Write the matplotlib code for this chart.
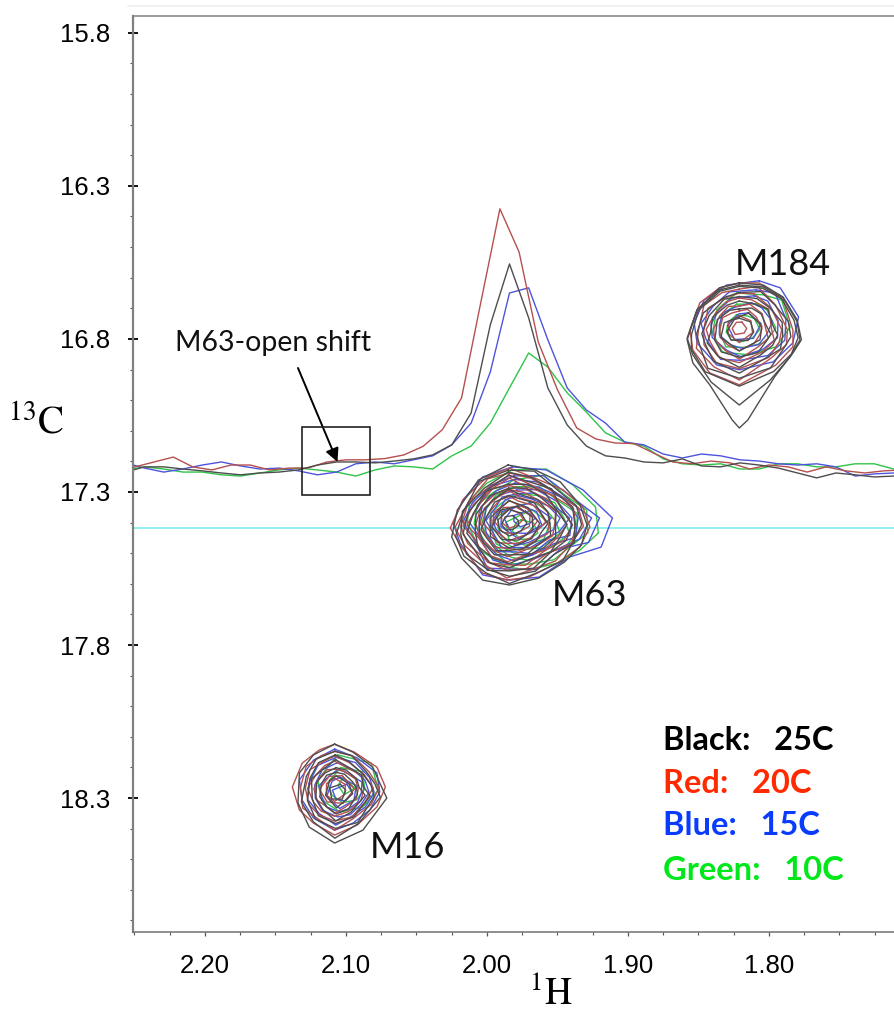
import matplotlib
matplotlib.use('Agg')
import matplotlib.pyplot as plt
from matplotlib.lines import Line2D
from matplotlib.patches import Rectangle
from matplotlib.ticker import MultipleLocator

plt.rcParams['font.family'] = ['Liberation Sans', 'DejaVu Sans']
plt.rcParams['mathtext.fontset'] = 'stix'

# 1D slices along 1H, red sits on its own grid and the others half a point over
h_red = [2.2632, 2.2496, 2.2360, 2.2224, 2.2087, 2.1951, 2.1815, 2.1679, 2.1542, 2.1406, 2.1270,
         2.1134, 2.0998, 2.0861, 2.0725, 2.0589, 2.0453, 2.0317, 2.0180, 2.0044, 1.9908,
         1.9772, 1.9636, 1.9499, 1.9363, 1.9227, 1.9091, 1.8955, 1.8818, 1.8682, 1.8546,
         1.8410, 1.8274, 1.8137, 1.8001, 1.7865, 1.7729, 1.7593, 1.7456, 1.7320, 1.7184, 1.7048]
h_other = [v - 0.0068 for v in h_red]

slice_red = [17.232, 17.218, 17.202, 17.186, 17.218, 17.228, 17.212, 17.212, 17.228, 17.222, 17.222,
             17.202, 17.195, 17.195, 17.191, 17.179, 17.151, 17.097, 16.993, 16.682, 16.375,
             16.516, 16.810, 16.967, 17.091, 17.127, 17.140, 17.142, 17.173, 17.202, 17.208,
             17.199, 17.205, 17.225, 17.212, 17.218, 17.235, 17.218, 17.231, 17.238, 17.231, 17.228]
slice_black = [17.235, 17.218, 17.218, 17.225, 17.231, 17.238, 17.244, 17.238, 17.235, 17.228, 17.212,
               17.202, 17.202, 17.205, 17.199, 17.192, 17.179, 17.146, 17.042, 16.754, 16.555,
               16.731, 16.960, 17.081, 17.150, 17.182, 17.189, 17.202, 17.205, 17.192, 17.215,
               17.218, 17.205, 17.212, 17.222, 17.238, 17.254, 17.238, 17.244, 17.251, 17.248, 17.248]
slice_blue = [17.205, 17.222, 17.235, 17.225, 17.212, 17.202, 17.215, 17.225, 17.222, 17.231, 17.244,
              17.235, 17.208, 17.202, 17.208, 17.195, 17.182, 17.146, 17.075, 16.908, 16.650,
              16.633, 16.803, 16.960, 17.032, 17.075, 17.137, 17.146, 17.176, 17.189, 17.176,
              17.182, 17.195, 17.199, 17.208, 17.212, 17.208, 17.218, 17.248, 17.241, 17.238, 17.238]
slice_green = [17.228, 17.218, 17.225, 17.235, 17.235, 17.244, 17.248, 17.238, 17.228, 17.222, 17.228,
               17.235, 17.248, 17.228, 17.215, 17.218, 17.225, 17.182, 17.150, 17.075, 16.960,
               16.846, 16.892, 16.976, 17.039, 17.107, 17.137, 17.150, 17.192, 17.208, 17.212,
               17.208, 17.225, 17.225, 17.208, 17.208, 17.218, 17.218, 17.208, 17.208, 17.225, 17.228]

# innermost contour centres, these drift a little with temperature
m63_centers = {'black': (1.984, 17.400), 'red': (1.984, 17.385), 'blue': (1.975, 17.385), 'green': (1.974, 17.434)}
m184_centers = {'black': (1.821, 16.771), 'red': (1.821, 16.765), 'blue': (1.818, 16.760), 'green': (1.823, 16.775)}
m16_centers = {'black': (2.106, 18.280), 'red': (2.108, 18.275), 'blue': (2.102, 18.285), 'green': (2.100, 18.265)}

# outermost contour of each peak, per temperature
m63_black = ([1.985, 1.966, 1.948, 1.934, 1.929, 1.933, 1.945, 1.963, 1.984, 2.003, 2.018, 2.025, 2.021, 2.006],
             [17.212, 17.228, 17.267, 17.342, 17.408, 17.473, 17.529, 17.581, 17.604, 17.588, 17.516, 17.447, 17.359, 17.261])
m63_red = ([1.984, 1.968, 1.946, 1.932, 1.927, 1.934, 1.950, 1.970, 1.986, 2.003, 2.018, 2.026, 2.017, 2.000],
           [17.222, 17.251, 17.293, 17.349, 17.414, 17.480, 17.532, 17.578, 17.588, 17.565, 17.480, 17.418, 17.326, 17.251])
m63_blue = ([1.982, 1.958, 1.932, 1.911, 1.919, 1.941, 1.963, 1.984, 2.003, 2.019, 2.024, 2.017, 2.003],
            [17.218, 17.228, 17.293, 17.385, 17.480, 17.512, 17.578, 17.588, 17.571, 17.467, 17.401, 17.326, 17.251])
m63_green = ([1.982, 1.958, 1.939, 1.923, 1.921, 1.934, 1.950, 1.970, 1.986, 2.005, 2.014, 2.012, 2.000],
             [17.228, 17.225, 17.277, 17.349, 17.434, 17.490, 17.532, 17.555, 17.545, 17.490, 17.401, 17.326, 17.271])

m184_black = ([1.821, 1.804, 1.790, 1.781, 1.778, 1.783, 1.796, 1.821, 1.846, 1.856, 1.856, 1.851, 1.835],
              [16.624, 16.630, 16.666, 16.738, 16.797, 16.852, 16.911, 16.960, 16.911, 16.836, 16.787, 16.705, 16.640])
m184_red = ([1.821, 1.807, 1.790, 1.783, 1.783, 1.795, 1.821, 1.842, 1.854, 1.856, 1.849, 1.835],
            [16.617, 16.617, 16.673, 16.771, 16.826, 16.885, 16.950, 16.911, 16.836, 16.771, 16.682, 16.633])
m184_blue = ([1.807, 1.792, 1.779, 1.783, 1.797, 1.821, 1.837, 1.851, 1.853, 1.846, 1.830],
             [16.610, 16.633, 16.728, 16.813, 16.875, 16.901, 16.885, 16.813, 16.748, 16.673, 16.624])
m184_green = ([1.823, 1.804, 1.791, 1.785, 1.795, 1.814, 1.833, 1.840, 1.837],
              [16.650, 16.656, 16.673, 16.761, 16.826, 16.852, 16.843, 16.780, 16.705])
# the two low black contours of M184 run out into a tail
m184_tail_1 = ([1.821, 1.804, 1.790, 1.780, 1.777, 1.783, 1.796, 1.815, 1.821, 1.826, 1.842, 1.854, 1.858, 1.851, 1.835],
               [16.617, 16.624, 16.663, 16.738, 16.803, 16.846, 16.924, 17.065, 17.091, 17.065, 16.950, 16.878, 16.803, 16.705, 16.633])
m184_tail_2 = ([1.821, 1.804, 1.790, 1.780, 1.778, 1.785, 1.799, 1.821, 1.841, 1.854, 1.858, 1.851, 1.835],
               [16.624, 16.630, 16.666, 16.744, 16.803, 16.859, 16.934, 17.016, 16.941, 16.852, 16.797, 16.705, 16.640])

m16_black = ([2.108, 2.095, 2.081, 2.076, 2.071, 2.088, 2.108, 2.126, 2.134, 2.133, 2.123],
             [18.124, 18.150, 18.199, 18.251, 18.300, 18.405, 18.447, 18.395, 18.316, 18.218, 18.159])
m16_red = ([2.108, 2.094, 2.078, 2.072, 2.078, 2.092, 2.108, 2.123, 2.133, 2.138, 2.131, 2.119],
           [18.124, 18.150, 18.199, 18.264, 18.329, 18.388, 18.421, 18.382, 18.339, 18.264, 18.186, 18.143])
m16_blue = ([2.108, 2.092, 2.078, 2.076, 2.083, 2.095, 2.108, 2.123, 2.131, 2.133, 2.123],
            [18.140, 18.169, 18.218, 18.280, 18.339, 18.382, 18.405, 18.365, 18.307, 18.241, 18.176])
m16_green = ([2.106, 2.082, 2.077, 2.088, 2.104, 2.117, 2.120],
             [18.159, 18.186, 18.274, 18.329, 18.346, 18.307, 18.241])

# contour levels, as a fraction of the outermost contour
m63_levels_black = [1.0, 0.93, 0.86, 0.79, 0.71, 0.63, 0.55, 0.47, 0.39, 0.31, 0.22, 0.13]
m63_levels_red = [1.0, 0.92, 0.84, 0.77, 0.69, 0.60, 0.52, 0.43, 0.35, 0.27, 0.17]
m63_levels_blue = [1.0, 0.84, 0.74, 0.66, 0.58, 0.50, 0.42, 0.33, 0.25, 0.14]
m63_levels_green = [1.0, 0.86, 0.72, 0.60, 0.47, 0.35, 0.20]
m184_levels_black = [0.97, 0.85, 0.73, 0.62, 0.50, 0.38, 0.25]
m184_levels_red = [1.0, 0.88, 0.76, 0.64, 0.52, 0.40, 0.26, 0.14]
m184_levels_blue = [1.0, 0.82, 0.66, 0.50, 0.32]
m184_levels_green = [1.0, 0.72, 0.42]
m16_levels_black = [1.0, 0.87, 0.76, 0.65, 0.54, 0.43, 0.32, 0.20]
m16_levels_red = [1.0, 0.86, 0.73, 0.61, 0.49, 0.37, 0.25]
m16_levels_blue = [1.0, 0.83, 0.68, 0.53, 0.39, 0.25]
m16_levels_green = [1.0, 0.62, 0.30]

# corners of a contour do not shrink evenly, this is the rough unevenness seen
corner_wobble = [1.0, 0.95, 1.04, 0.98, 1.05, 0.94, 1.02]

y_major = [15.8, 16.3, 16.8, 17.3, 17.8, 18.3]
y_labels = ['15.8', '16.3', '16.8', '17.3', '17.8', '18.3']
x_major = [2.20, 2.10, 2.00, 1.90, 1.80]
x_labels = ['2.20', '2.10', '2.00', '1.90', '1.80']

legend_text = ['Black:   25C', 'Red:   20C', 'Blue:   15C', 'Green:   10C']
legend_colors = ['black', '#ff2a00', '#0a3cff', '#00e81a']
legend_y = [18.143, 18.284, 18.421, 18.568]

c_black = '#4d4d4d'
c_red = '#b5504f'
c_blue = '#4c55dc'
c_green = '#2fc448'


def draw_peak(ax, center, outline, levels, color):
    xs, ys = outline
    for i, lev in enumerate(levels):
        rx = []
        ry = []
        for j in range(len(xs)):
            # the outermost contour stays as read
            f = lev if lev == levels[0] else lev * corner_wobble[(j + 3 * i) % len(corner_wobble)]
            rx.append(center[0] + (xs[j] - center[0]) * f)
            ry.append(center[1] + (ys[j] - center[1]) * f)
        # the small inner contours have only a few corners
        if lev < 0.4:
            rx = rx[i % 2::2]
            ry = ry[i % 2::2]
        ax.plot(rx + rx[:1], ry + ry[:1], color=color, lw=1.0)


fig = plt.figure(figsize=(8.95, 10.13), dpi=100)
ax = fig.add_axes([133 / 895, 1 - 931.5 / 1013, 1 - 133 / 895, (931.5 - 16) / 1013])

ax.axhline(17.418, color='#74e9ea', lw=1.1, zorder=1)

ax.plot(h_other, slice_green, color=c_green, lw=1.0)
ax.plot(h_other, slice_blue, color=c_blue, lw=1.0)
ax.plot(h_red, slice_red, color=c_red, lw=1.0)
ax.plot(h_other, slice_black, color=c_black, lw=1.0)

draw_peak(ax, m63_centers['green'], m63_green, m63_levels_green, c_green)
draw_peak(ax, m63_centers['blue'], m63_blue, m63_levels_blue, c_blue)
draw_peak(ax, m63_centers['red'], m63_red, m63_levels_red, c_red)
draw_peak(ax, m63_centers['black'], m63_black, m63_levels_black, c_black)

draw_peak(ax, m184_centers['green'], m184_green, m184_levels_green, c_green)
draw_peak(ax, m184_centers['blue'], m184_blue, m184_levels_blue, c_blue)
draw_peak(ax, m184_centers['red'], m184_red, m184_levels_red, c_red)
draw_peak(ax, m184_centers['black'], m184_black, m184_levels_black, c_black)
draw_peak(ax, m184_centers['black'], m184_tail_1, [1.0], c_black)
draw_peak(ax, m184_centers['black'], m184_tail_2, [1.0], c_black)

draw_peak(ax, m16_centers['green'], m16_green, m16_levels_green, c_green)
draw_peak(ax, m16_centers['blue'], m16_blue, m16_levels_blue, c_blue)
draw_peak(ax, m16_centers['red'], m16_red, m16_levels_red, c_red)
draw_peak(ax, m16_centers['black'], m16_black, m16_levels_black, c_black)

ax.set_xlim(2.251, 1.7106)
ax.set_ylim(18.736, 15.745)

ax.set_yticks(y_major)
ax.set_yticklabels(y_labels)
ax.set_xticks(x_major)
ax.set_xticklabels(x_labels)
ax.yaxis.set_minor_locator(MultipleLocator(0.1))
ax.xaxis.set_minor_locator(MultipleLocator(0.025))
ax.tick_params(axis='y', which='major', direction='inout', length=6.5, width=1.3, color='black',
               labelsize=18.5, pad=13)
ax.tick_params(axis='y', which='minor', length=2, width=0.8, color='#555555')
ax.tick_params(axis='x', which='major', length=3, width=0.9, color='#555555', labelsize=18.5, pad=13)
ax.tick_params(axis='x', which='minor', length=2, width=0.8, color='#555555')

ax.spines['right'].set_visible(False)
ax.spines['left'].set_color('#808080')
ax.spines['left'].set_linewidth(1.6)
ax.spines['top'].set_color('#808080')
ax.spines['top'].set_linewidth(1.1)
ax.spines['bottom'].set_color('#707070')
ax.spines['bottom'].set_linewidth(1.1)

ax.set_ylabel(r'$^{\mathrm{13}}\mathrm{C}$', rotation=0, fontsize=28, ha='center', va='center')
ax.yaxis.set_label_coords(-97 / 762, 1 - (423 - 16) / 915.5)
ax.set_xlabel(r'$^{\mathrm{1}}\mathrm{H}$', fontsize=27, ha='center', va='baseline')
ax.xaxis.set_label_coords((551 - 133) / 762, -73 / 915.5)

# box and arrow on the open shift of M63
ax.add_patch(Rectangle((2.083, 17.088), 0.048, 0.222, fill=False, ec='#222222', lw=1.2, zorder=5))
ax.annotate('', xy=(2.106, 17.202), xytext=(2.134, 16.895),
            arrowprops=dict(arrowstyle='-|>', color='black', lw=1.4, mutation_scale=20, shrinkA=0, shrinkB=0))
ax.text(2.152, 16.84, 'M63-open shift', fontsize=20.5, family='Lato', ha='center', va='baseline', color='#111111')

ax.text(1.824, 16.59, 'M184', fontsize=26, family='Lato', va='baseline', color='#111111')
ax.text(1.954, 17.673, 'M63', fontsize=26, family='Lato', va='baseline', color='#111111')
ax.text(2.083, 18.496, 'M16', fontsize=26, family='Lato', va='baseline', color='#111111')

for label, col, yy in zip(legend_text, legend_colors, legend_y):
    ax.text(1.875, yy, label, fontsize=23.5, family='Lato', weight='bold', color=col, va='baseline')

# faint rule above the plot
fig.add_artist(Line2D([128 / 895, 1], [1 - 6 / 1013, 1 - 6 / 1013], color='#eeeeee', lw=1.2))

fig.savefig('out.png', dpi=100)
